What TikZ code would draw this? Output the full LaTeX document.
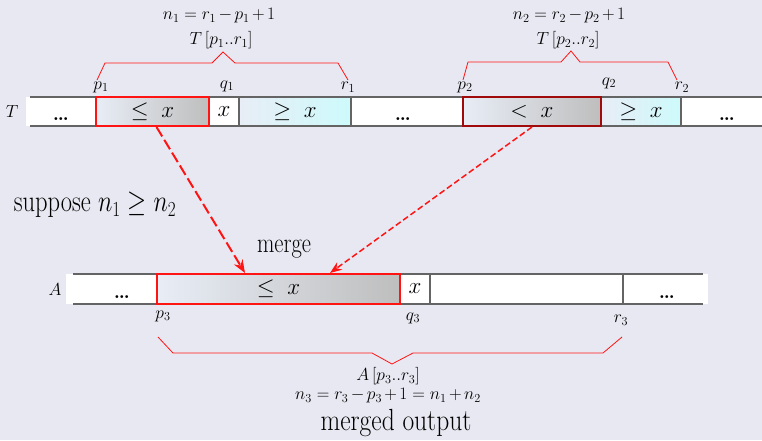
\RequirePackage{fix-cm}
\documentclass[tikz,border=0pt]{standalone}
\usepackage{fontspec}
\DeclareFontShape{OML}{cmm}{m}{it}{<-6>cmmi5<6-7>cmmi6<7-8>cmmi7<8-9>cmmi8<9-10>cmmi9<10-12>cmmi10<12->cmmi12}{}
\DeclareFontShape{OMS}{cmsy}{m}{n}{<-6>cmsy5<6-7>cmsy6<7-8>cmsy7<8-9>cmsy8<9-10>cmsy9<10->cmsy10}{}
\usetikzlibrary{arrows.meta}
\definecolor{bg}{RGB}{232,232,242}
\definecolor{redA}{RGB}{255,20,20}
\definecolor{redB}{RGB}{160,10,10}
\definecolor{grayL}{RGB}{190,190,190}
\definecolor{blueL}{RGB}{232,237,246}
\definecolor{cyanL}{RGB}{205,250,251}
\definecolor{lineG}{RGB}{100,100,100}
\newcommand{\tm}{\mkern-1.5mu}
\begin{document}
\begin{tikzpicture}[x=1pt,y=-1pt,
  small/.style={font=\fontsize{17.5}{21}\selectfont, inner sep=0pt},
  big/.style={font=\fontsize{24.5}{29}\selectfont, inner sep=0pt},
  cell/.style={draw=lineG, line width=1.2pt, inner sep=0pt, font=\fontsize{23}{27}\selectfont},
  cellT/.style={cell, minimum height=29pt},
  cellA/.style={cell, minimum height=30pt},
  lebox/.style={left color=blueL, right color=grayL},
  gebox/.style={left color=blueL, right color=cyanL},
  redbox/.style={draw=redA, line width=2pt},
  darkbox/.style={draw=redB, line width=2pt},
  strip/.style={draw=lineG, line width=1.2pt},
  brace/.style={draw=redA, line width=0.8pt},
  arrA/.style={draw=redA, line width=2pt, dash pattern=on 11pt off 4pt, -{Stealth[length=13pt,width=10pt]}},
  arrB/.style={draw=redA, line width=1.5pt, dash pattern=on 6pt off 3pt, -{Stealth[length=12pt,width=9pt]}},
  dots/.style={font=\fontsize{20}{24}\selectfont\bfseries, inner sep=0pt, anchor=base}
]
\useasboundingbox (0,0) rectangle (762,440);
\fill[bg] (0,0) rectangle (762,440);

% ---------- row T ----------
\fill[white] (26,97) rectangle (762,126);
\draw[strip] (30,97) -- (762,97);
\draw[strip] (30,126) -- (762,126);
\node[small] (labT) at (12,112) {$T$};
\node[dots] (dT1) at (61,120) {\ldots};
\node[dots] (dT2) at (403,120) {\ldots};
\node[dots] (dT3) at (727,120) {\ldots};
\node[cellT, fill=white, minimum width=30pt] (x1) at (224,111.5) {$x$};
\node[cellT, gebox, minimum width=112pt] (ge1) at (295,111.5) {$\ge\;x$};
\node[cellT, gebox, minimum width=80pt] (ge2) at (641,111.5) {$\ge\;x$};
\node[cellT, lebox, redbox, minimum width=113pt] (le1) at (152.5,111.5) {$\le\;x$};
\node[cellT, lebox, darkbox, minimum width=138pt] (lt2) at (532,111.5) {$<\;x$};

% index labels T
\node[small] (p1) at (101,87) {$p_1$};
\node[small] (q1) at (227,86) {$q_1$};
\node[small] (r1) at (348,87) {$r_1$};
\node[small] (p2) at (465,87) {$p_2$};
\node[small] (q2) at (609,83) {$q_2$};
\node[small] (r2) at (682,87) {$r_2$};

% braces T
\draw[brace] (97,80) -- (105,63) -- (212,63) -- (223,52) -- (235,63) -- (338,63) -- (348,80);
\draw[brace] (463,80) -- (468,62) -- (561,62) -- (571,51) -- (580,62) -- (668,62) -- (677,80);
\node[small] (n1) at (219,16) {$n_1 = r_1\tm-\tm p_1\tm+\tm1$};
\node[small] (T1) at (221,40) {$T\,[p_1..r_1]$};
\node[small] (n2) at (569,16) {$n_2 = r_2\tm-\tm p_2\tm+\tm1$};
\node[small] (T2) at (568,40) {$T\,[p_2..r_2]$};

% ---------- suppose ----------
\node[big] (sup) at (95,205) {\scalebox{1}[1.25]{suppose $n_1 \ge n_2$}};

% ---------- row A ----------
\fill[white] (66,274) rectangle (708,304);
\draw[strip] (73,274) -- (703,274);
\draw[strip] (73,304) -- (703,304);
\node[small] (labA) at (55,290) {$A$};
\node[dots] (dA1) at (122,298) {\ldots};
\node[dots] (dA2) at (667,298) {\ldots};
\node[cellA, fill=white, minimum width=30pt] (xA) at (415,289) {$x$};
\node[cellA, fill=white, minimum width=193pt] (emA) at (526.5,289) {};
\node[cellA, lebox, redbox, line width=2.5pt, minimum width=243pt] (leA) at (278.5,289) {$\le\;x$};

\node[small] (p3) at (163,316) {$p_3$};
\node[small] (q3) at (413,318) {$q_3$};
\node[small] (r3) at (621,320) {$r_3$};

\draw[brace] (158,337) -- (173,353) -- (372,353) -- (392,364) -- (413,353) -- (603,353) -- (622,337);
\node[small] (A3) at (388,376) {$A\,[p_3..r_3]$};
\node[small] (n3) at (388,396) {$n_3 = r_3\tm-\tm p_3\tm+\tm1 = n_1\tm+\tm n_2$};
\node[big, font=\fontsize{25.5}{30}\selectfont] (mo) at (396,423) {\scalebox{1}[1.2]{merged output}};

% ---------- merge arrows ----------
\node[big, font=\fontsize{22.5}{27}\selectfont] (mg) at (284,249) {\scalebox{1}[1.25]{merge}};
\coordinate (m1) at (245,273);
\coordinate (m2) at (330,273);
\draw[arrA] ([xshift=4pt]le1.south) -- (m1);
\draw[arrB] (lt2.south) -- (m2);
\end{tikzpicture}
\end{document}
